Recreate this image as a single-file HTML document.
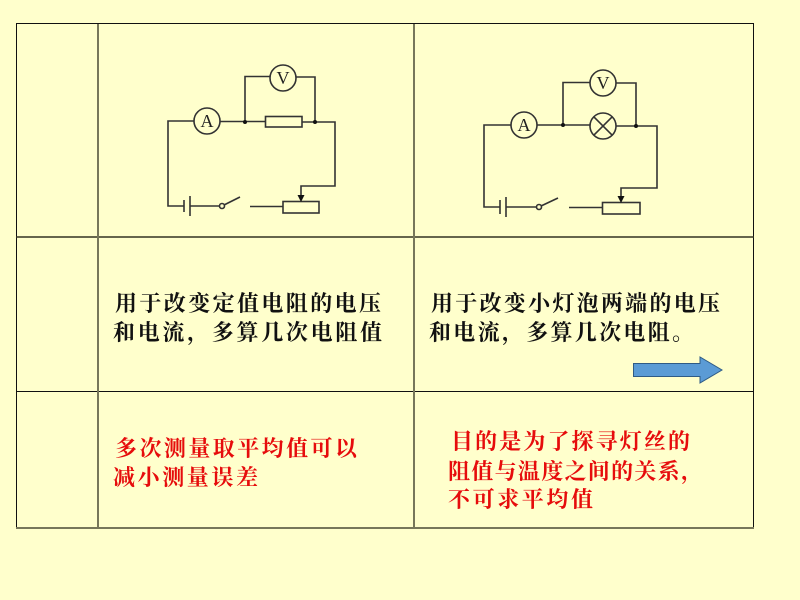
<!DOCTYPE html>
<html><head><meta charset="utf-8"><style>
html,body{margin:0;padding:0;background:#FFFFCC;}
svg{display:block;}
text{font-family:"Liberation Serif","Noto Serif CJK SC",serif;}
.t{font-size:22px;font-weight:700;}
</style></head><body>
<svg width="800" height="600" viewBox="0 0 800 600" xmlns="http://www.w3.org/2000/svg">
<rect width="800" height="600" fill="#FFFFCC"/>
<g fill="none" stroke="#111" stroke-width="1">
<path d="M16.500 23V528M16 23.500H754M16 391.500H754M753.500 23V529"/>
</g>
<path d="M16 237H754" stroke="#333322" stroke-width="1.600" fill="none"/>
<path d="M98 24V528M414 24V528M16 528H754" stroke="#77775A" stroke-width="2" fill="none"/>
<g fill="none" stroke="#333" stroke-width="1.600">
<path d="M194 121H168V206H184M220 121.500H265M302 122H335V186H301V195M184 200V212M190 196V216M190 206H219.500M224 205L240 197M250 206.500H283"/>
<path d="M245 122V76.500H270M296 77H315V122"/>
<circle cx="207" cy="121" r="13"/><circle cx="283" cy="78" r="13"/>
<rect x="265.500" y="116.500" width="36.500" height="10.500"/>
<rect x="283" y="201.500" width="36" height="11.500"/>
<circle cx="222" cy="206" r="2.500"/>
<path d="M511 125H484V207H500M537 125H590M616 126H657V188H621V197M500 200V214M506 197V217M506 207H536.500M541 206L558 198M569 207.500H602"/>
<path d="M563 125V82.500H590M616 83H636V126"/>
<circle cx="524" cy="125" r="13"/><circle cx="603" cy="83" r="13"/><circle cx="603" cy="126" r="13"/>
<path d="M593.800 116.800L612.200 135.200M612.200 116.800L593.800 135.200"/>
<rect x="602.500" y="202.500" width="37.500" height="11.500"/>
<circle cx="539" cy="207" r="2.500"/>
</g>
<g fill="#111">
<circle cx="245" cy="122" r="2"/><circle cx="315" cy="122" r="2"/>
<circle cx="563" cy="125" r="2"/><circle cx="636" cy="126" r="2"/>
<path d="M297.500 195H304.500L301 202Z"/><path d="M617.500 196H624.500L621 203Z"/>
</g>
<g fill="#222" font-size="18" text-anchor="middle">
<text x="207" y="127">A</text><text x="283" y="84">V</text>
<text x="524" y="131">A</text><text x="603" y="89">V</text>
</g>
<path d="M633.500 363.500H700V357L722 370L700 383V376.500H633.500Z" fill="#5B9BD5" stroke="#2F5B85" stroke-width="1"/>
<g class="t" fill="#111">
<text class="t" x="115" y="311" textLength="266">用于改变定值电阻的电压</text>
<text class="t" x="113" y="340" textLength="269">和电流，多算几次电阻值</text>
<text class="t" x="431" y="311" textLength="289">用于改变小灯泡两端的电压</text>
<text class="t" x="429" y="340" textLength="265">和电流，多算几次电阻。</text>
</g>
<g class="t" fill="#E60C0C">
<text class="t" x="115" y="456" textLength="242">多次测量取平均值可以</text>
<text class="t" x="113" y="485" textLength="145">减小测量误差</text>
<text class="t" x="451" y="449" textLength="239">目的是为了探寻灯丝的</text>
<text class="t" x="448" y="479" textLength="255">阻值与温度之间的关系，</text>
<text class="t" x="448" y="507" textLength="145">不可求平均值</text>
</g>
</svg>
</body></html>
